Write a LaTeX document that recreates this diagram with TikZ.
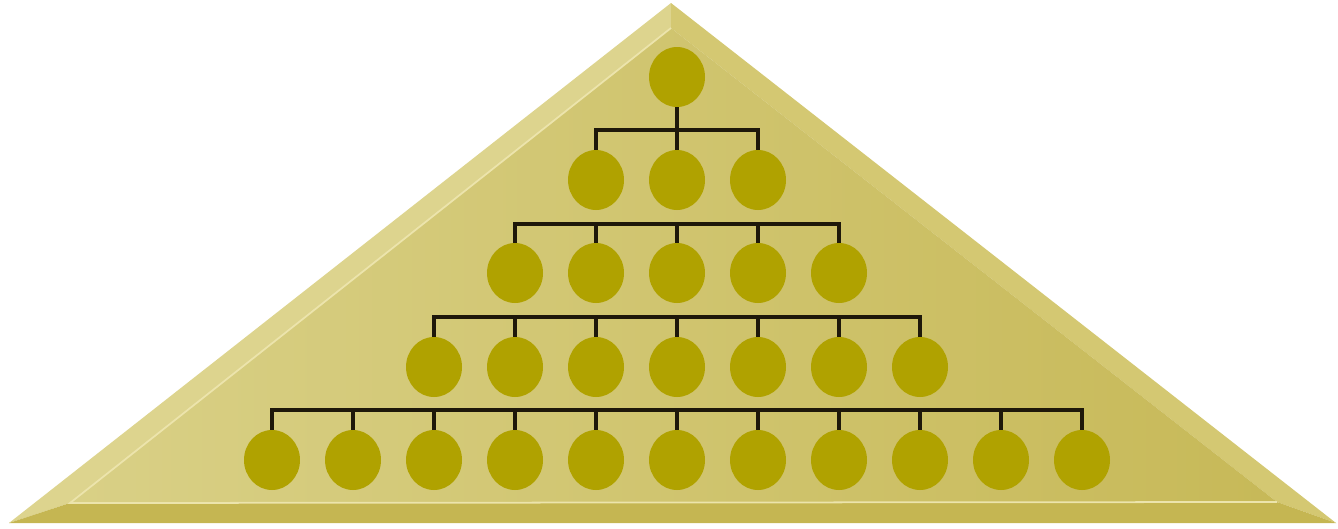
\documentclass[tikz,border=0pt]{standalone}
\usetikzlibrary{shapes.geometric}

\definecolor{bevelleft}{RGB}{221,212,142}
\definecolor{bevelright}{RGB}{212,200,114}
\definecolor{bevelbottom}{RGB}{197,182,82}
\definecolor{faceleft}{RGB}{217,208,134}
\definecolor{faceright}{RGB}{199,185,88}
\definecolor{shine}{RGB}{236,228,172}
\definecolor{member}{RGB}{176,162,0}
\definecolor{wire}{RGB}{30,24,10}

\newcommand*{\midx}{677}
\newcommand*{\gap}{81}

\begin{document}
\begin{tikzpicture}
[
	x=0.02cm,y=-0.02cm,
	person/.style={ellipse,fill=member,inner sep=0pt,minimum width=1.12cm,minimum height=1.2cm},
	tree/.style={draw=wire,line width=2pt,line join=miter},
]

	\useasboundingbox (0,0) rectangle (1338,528);

	% pyramid corners
	\coordinate (A) at (671,3);
	\coordinate (BL) at (9,523);
	\coordinate (BR) at (1336,523);
	\coordinate (a) at (671,28);
	\coordinate (bl) at (70,503);
	\coordinate (br) at (1277,502);

	% bevel faces
	\fill[bevelleft] (A) -- (BL) -- (bl) -- (a) -- cycle;
	\fill[bevelright] (A) -- (a) -- (br) -- (BR) -- cycle;
	\fill[bevelbottom] (BL) -- (BR) -- (br) -- (bl) -- cycle;
	\shade[left color=faceleft,right color=faceright] (a) -- (bl) -- (br) -- cycle;
	\draw[shine,line width=1pt] (a) -- (bl) -- (br);

	% members
	\foreach \r/\n/\y in {1/1/77,2/3/180,3/5/273,4/7/367,5/11/460}
		\foreach \k in {1,...,\n}
			\node[person] (c\r-\k) at ({\midx+\gap*(\k-(\n+1)/2)},\y) {};

	% links
	\foreach \r/\n/\y in {2/3/130,3/5/224,4/7/317,5/11/410}
	{
		\coordinate (bus\r) at (\midx,\y);
		\draw[tree] (c\r-1.north) -- (c\r-1.north |- bus\r) -- (c\r-\n.north |- bus\r) -- (c\r-\n.north);
		\foreach \k in {1,...,\n}
			\draw[tree] (c\r-\k.north) -- (c\r-\k.north |- bus\r);
	}
	\draw[tree] (c1-1.south) -- (c1-1.south |- bus2);

\end{tikzpicture}
\end{document}
